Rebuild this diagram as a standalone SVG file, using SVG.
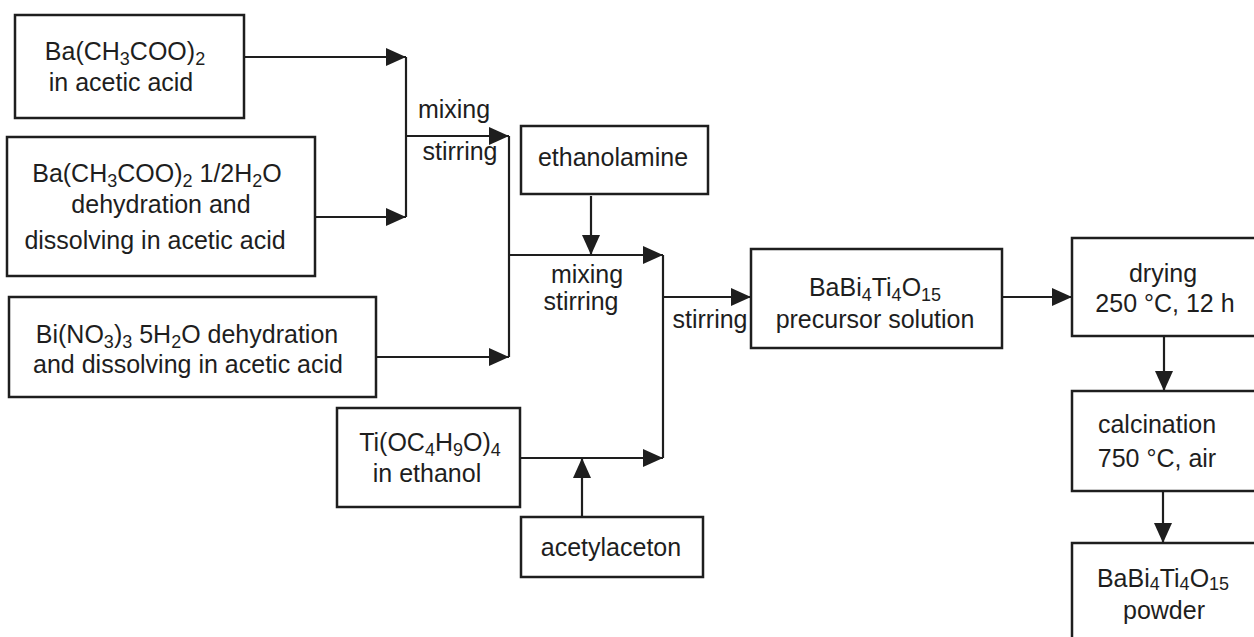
<svg xmlns="http://www.w3.org/2000/svg" width="1254" height="637" viewBox="0 0 1254 637">
<style>
.box{fill:#fff;stroke:#1e1e1e;stroke-width:2.5}
.t{font-family:"Liberation Sans",Arial,sans-serif;font-size:25px;fill:#1e1e1e;text-anchor:middle}
.s{font-size:18px}
.c{fill:none;stroke:#1e1e1e;stroke-width:2.2}
</style>
<defs>
<marker id="ah" markerUnits="userSpaceOnUse" markerWidth="20" markerHeight="18" refX="20" refY="9" orient="auto">
<path d="M0,0 L20,9 L0,18 z" fill="#1e1e1e"/>
</marker>
</defs>
<rect width="1254" height="637" fill="#fff"/>
<g id="connectors">
<path class="c" d="M244,57 H406" marker-end="url(#ah)"/>
<path class="c" d="M315,217 H406" marker-end="url(#ah)"/>
<path class="c" d="M406,57 V217"/>
<path class="c" d="M406,136 H509" marker-end="url(#ah)"/>
<path class="c" d="M376,357 H509" marker-end="url(#ah)"/>
<path class="c" d="M509,136 V357"/>
<path class="c" d="M509,255 H663" marker-end="url(#ah)"/>
<path class="c" d="M591,196 V255" marker-end="url(#ah)"/>
<path class="c" d="M520,458 H663" marker-end="url(#ah)"/>
<path class="c" d="M582,517 V458" marker-end="url(#ah)"/>
<path class="c" d="M663,255 V458"/>
<path class="c" d="M663,297 H751" marker-end="url(#ah)"/>
<path class="c" d="M1002,297 H1072" marker-end="url(#ah)"/>
<path class="c" d="M1164,336 V391" marker-end="url(#ah)"/>
<path class="c" d="M1163,491 V543" marker-end="url(#ah)"/>
<text class="t" x="454" y="118">mixing</text>
<text class="t" x="460" y="160">stirring</text>
<text class="t" x="587" y="283">mixing</text>
<text class="t" x="581" y="310">stirring</text>
<text class="t" x="710" y="328">stirring</text>
</g>
<g id="n1">
<rect class="box" x="15" y="15" width="229" height="103"/>
<text class="t" x="125" y="60">Ba(CH<tspan class="s" dy="5">3</tspan><tspan dy="-5">COO)</tspan><tspan class="s" dy="5">2</tspan></text>
<text class="t" x="121" y="91">in acetic acid</text>
</g>
<g id="n2">
<rect class="box" x="7" y="137" width="308" height="139"/>
<text class="t" x="157" y="182">Ba(CH<tspan class="s" dy="5">3</tspan><tspan dy="-5">COO)</tspan><tspan class="s" dy="5">2</tspan><tspan dy="-5"> 1/2H</tspan><tspan class="s" dy="5">2</tspan><tspan dy="-5">O</tspan></text>
<text class="t" x="161" y="213">dehydration and</text>
<text class="t" x="155" y="249">dissolving in acetic acid</text>
</g>
<g id="n3">
<rect class="box" x="9" y="297" width="367" height="100"/>
<text class="t" x="187" y="343">Bi(NO<tspan class="s" dy="5">3</tspan><tspan dy="-5">)</tspan><tspan class="s" dy="5">3</tspan><tspan dy="-5"> 5H</tspan><tspan class="s" dy="5">2</tspan><tspan dy="-5">O dehydration</tspan></text>
<text class="t" x="188" y="373">and dissolving in acetic acid</text>
</g>
<g id="n4">
<rect class="box" x="337" y="408" width="183" height="99"/>
<text class="t" x="430" y="451">Ti(OC<tspan class="s" dy="5">4</tspan><tspan dy="-5">H</tspan><tspan class="s" dy="5">9</tspan><tspan dy="-5">O)</tspan><tspan class="s" dy="5">4</tspan></text>
<text class="t" x="427" y="482">in ethanol</text>
</g>
<g id="n5">
<rect class="box" x="521" y="126" width="187" height="68"/>
<text class="t" x="613" y="166">ethanolamine</text>
</g>
<g id="n6">
<rect class="box" x="521" y="517" width="182" height="60"/>
<text class="t" x="611" y="556">acetylaceton</text>
</g>
<g id="n7">
<rect class="box" x="751" y="249" width="251" height="99"/>
<text class="t" x="875" y="296">BaBi<tspan class="s" dy="5">4</tspan><tspan dy="-5">Ti</tspan><tspan class="s" dy="5">4</tspan><tspan dy="-5">O</tspan><tspan class="s" dy="5">15</tspan></text>
<text class="t" x="875" y="328">precursor solution</text>
</g>
<g id="n8">
<rect class="box" x="1072" y="238" width="220" height="98"/>
<text class="t" x="1163" y="282">drying</text>
<text class="t" x="1165" y="312">250 °C, 12 h</text>
</g>
<g id="n9">
<rect class="box" x="1072" y="391" width="220" height="100"/>
<text class="t" x="1157" y="433">calcination</text>
<text class="t" x="1157" y="467">750 °C, air</text>
</g>
<g id="n10">
<rect class="box" x="1072" y="543" width="220" height="120"/>
<text class="t" x="1163" y="587">BaBi<tspan class="s" dy="3">4</tspan><tspan dy="-3">Ti</tspan><tspan class="s" dy="3">4</tspan><tspan dy="-3">O</tspan><tspan class="s" dy="3">15</tspan></text>
<text class="t" x="1164" y="619">powder</text>
</g>
</svg>
